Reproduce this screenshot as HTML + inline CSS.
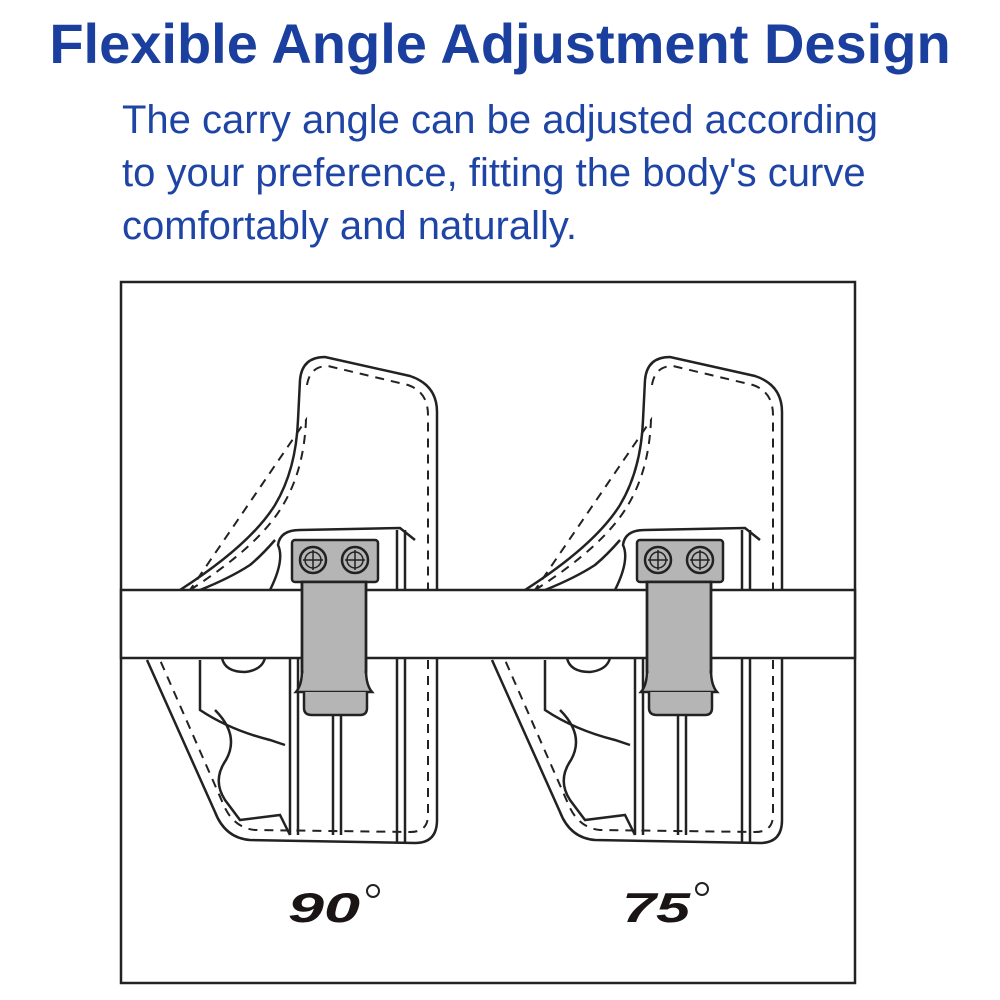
<!DOCTYPE html>
<html><head><meta charset="utf-8">
<style>
html,body{margin:0;padding:0;background:#fff;width:1000px;height:1000px;overflow:hidden}
.t{position:absolute;font-family:"Liberation Sans",sans-serif;color:#1e45a6;white-space:nowrap}
</style></head><body>
<div class="t" style="left:0;width:1000px;text-align:center;top:11px;font-size:56px;font-weight:bold;color:#1b3f9e">Flexible Angle Adjustment Design</div>
<div class="t" style="left:122px;top:94px;font-size:40px;line-height:53px">The carry angle can be adjusted according<br>to your preference, fitting the body's curve<br>comfortably and naturally.</div>
<svg width="1000" height="1000" style="position:absolute;left:0;top:0">
<defs>
<g id="h" fill="none" stroke="#222" stroke-width="2.5">
<path d="M300,380 Q302,357 325,357 L410,376 Q437,385 437,412 L437,820 Q437,843 415,843 L250,840 Q225,838 215,812 L147,660 M180,590 Q250,545 275,505 Q296,470 298,420 L300,380" fill="#fff"/>
<path d="M307,385 Q310,366 328,366 L408,385 Q428,392 428,415 L428,600 M428,660 L428,815 Q428,832 410,832 L255,830 Q235,828 225,808 L160,660 M190,590 Q260,545 283,505 Q304,470 306,420 Z" stroke-dasharray="9,7" stroke-width="2"/>
<path d="M270,590 Q285,560 278,545 Q280,530 300,530 L400,528 L415,540 M275,540 Q262,555 250,565 Q230,578 200,590"/>
<path d="M397,530 L397,843 M405,530 L405,843 M290,658 L290,835 M298,658 L298,835 M200,660 L200,710 Q230,730 270,740 L285,745"/>
<path d="M222,658 Q225,672 245,672 Q262,670 265,658"/>
<path d="M215,710 Q240,735 226,760 Q212,780 225,800 L240,820 L280,815 L290,835"/>
<path d="M333,715 L333,835 M341,715 L341,835"/>
<rect x="292" y="540" width="86" height="42" fill="#b5b5b5" rx="3"/>
<path d="M302,582 L302,670 Q302,685 296,692 L372,692 Q366,685 366,670 L366,582 Z" fill="#b5b5b5"/>
<path d="M304,692 L304,708 Q304,715 312,715 L360,715 Q367,715 367,708 L367,692" fill="#b5b5b5"/>
<circle cx="313" cy="560" r="13" fill="#b5b5b5"/><circle cx="313" cy="560" r="8" stroke-width="1.5"/>
<circle cx="355" cy="560" r="13" fill="#b5b5b5"/><circle cx="355" cy="560" r="8" stroke-width="1.5"/>
<path d="M303,560 L323,560 M313,550 L313,570 M345,560 L365,560 M355,550 L355,570" stroke-width="1.5"/>
</g>
</defs>
<rect x="121" y="282" width="734" height="701" fill="none" stroke="#222" stroke-width="2.5"/>
<use href="#h"/>
<use href="#h" transform="translate(345,0)"/>
<rect x="121" y="590" width="734" height="68" fill="#fff" stroke="#222" stroke-width="2.5"/>
<g fill="#b5b5b5" stroke="#222" stroke-width="2.5">
<rect x="302" y="582" width="64" height="90"/>
<rect x="647" y="582" width="64" height="90"/>
</g>
<g fill="#b5b5b5"><rect x="303.5" y="586" width="61" height="88"/><rect x="648.5" y="586" width="61" height="88"/></g>
<g fill="none" stroke="#222" stroke-width="2.5"><path d="M302,582 L302,672 M366,582 L366,672 M647,582 L647,672 M711,582 L711,672"/></g>
<g font-family="Liberation Sans,sans-serif" font-weight="bold" font-style="italic" fill="#1a1414">
<text x="288" y="922" font-size="42" textLength="72" lengthAdjust="spacingAndGlyphs">90</text>
<text x="622" y="922" font-size="42" textLength="68" lengthAdjust="spacingAndGlyphs">75</text>
</g>
<circle cx="373" cy="891" r="6" fill="none" stroke="#222" stroke-width="2"/>
<circle cx="702" cy="889" r="6" fill="none" stroke="#222" stroke-width="2"/>
</svg>
</body></html>
